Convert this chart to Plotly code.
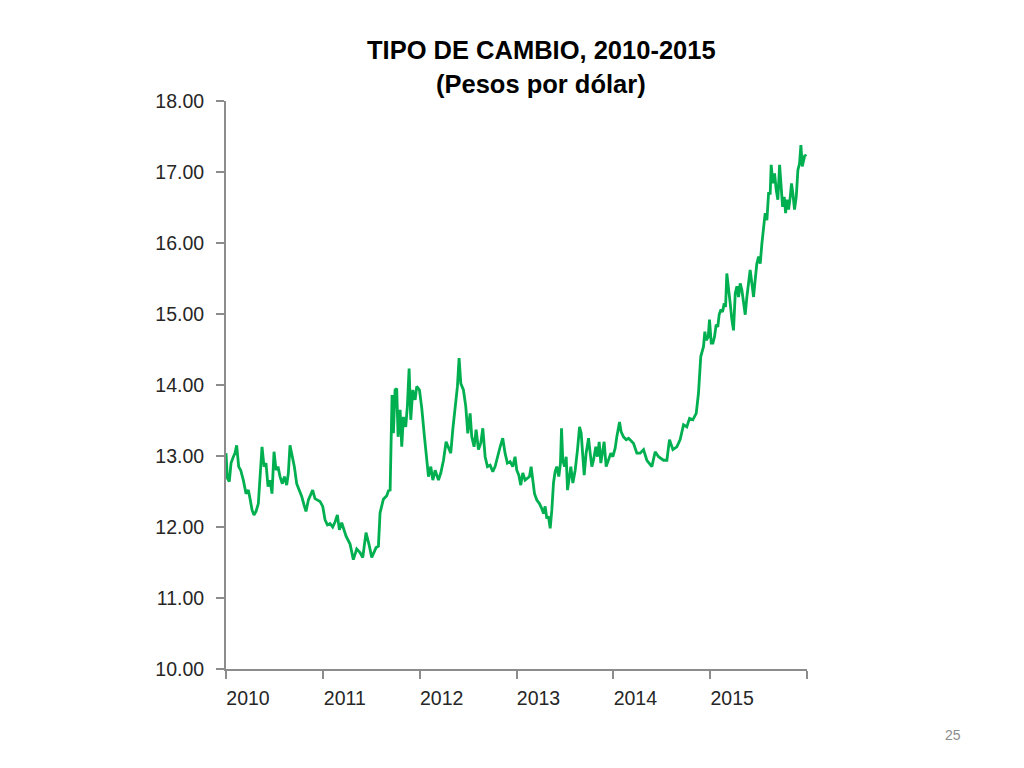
import plotly.graph_objects as go

# Fecha (año decimal) y tipo de cambio (pesos por dólar)
fecha = [
    # 2010 - principios de 2011
    2010.000, 2010.014, 2010.034, 2010.052, 2010.076, 2010.093, 2010.110, 2010.131, 2010.152, 2010.179,
    2010.207, 2010.231, 2010.248, 2010.269, 2010.289, 2010.310, 2010.334, 2010.351, 2010.372, 2010.393,
    2010.413, 2010.434, 2010.455, 2010.475, 2010.496, 2010.517, 2010.537, 2010.558, 2010.582, 2010.603,
    2010.627, 2010.644, 2010.661, 2010.685, 2010.706, 2010.730, 2010.758, 2010.782, 2010.806, 2010.826,
    2010.851, 2010.875, 2010.895, 2010.919, 2010.944, 2010.971, 2010.999, 2011.023, 2011.047, 2011.074,
    2011.102, 2011.126, 2011.150, 2011.171,
    # 2011
    2011.195, 2011.240, 2011.281, 2011.315, 2011.350, 2011.384, 2011.412, 2011.446, 2011.481, 2011.505,
    2011.550, 2011.574, 2011.591, 2011.625, 2011.660, 2011.677,
    # finales de 2011 - 2012
    2011.695, 2011.702, 2011.715, 2011.729, 2011.746, 2011.763, 2011.777, 2011.798, 2011.815, 2011.832,
    2011.856, 2011.873, 2011.891, 2011.908, 2011.929, 2011.953, 2011.970, 2011.998, 2012.022, 2012.046,
    2012.067, 2012.091, 2012.115, 2012.136, 2012.160, 2012.194, 2012.218, 2012.246, 2012.273, 2012.297,
    2012.321, 2012.342, 2012.366, 2012.390, 2012.407, 2012.425, 2012.452, 2012.476, 2012.497, 2012.521,
    2012.538, 2012.562, 2012.583, 2012.607, 2012.631, 2012.652, 2012.676, 2012.700, 2012.728, 2012.755,
    2012.779, 2012.803, 2012.831, 2012.858, 2012.882, 2012.906, 2012.934, 2012.961, 2012.985,
    # 2013 - principios de 2014
    2013.003, 2013.024, 2013.044, 2013.065, 2013.089, 2013.113, 2013.134, 2013.151, 2013.168, 2013.186,
    2013.210, 2013.237, 2013.261, 2013.279, 2013.296, 2013.313, 2013.330, 2013.348, 2013.365, 2013.382,
    2013.399, 2013.416, 2013.437, 2013.454, 2013.465, 2013.478, 2013.496, 2013.513, 2013.527, 2013.544,
    2013.561, 2013.582, 2013.606, 2013.630, 2013.651, 2013.668, 2013.685, 2013.699, 2013.719, 2013.744,
    2013.761, 2013.778, 2013.795, 2013.819, 2013.836, 2013.854, 2013.871, 2013.888, 2013.905, 2013.926,
    2013.950, 2013.974, 2013.995, 2014.019, 2014.036, 2014.053, 2014.064, 2014.081, 2014.105, 2014.133,
    2014.157,
    # 2014
    2014.208, 2014.243, 2014.277, 2014.312, 2014.346, 2014.398, 2014.432, 2014.467, 2014.518, 2014.553,
    2014.580, 2014.615, 2014.656, 2014.690, 2014.725, 2014.759, 2014.787, 2014.821, 2014.856, 2014.879,
    2014.903,
    # finales de 2014 - 2015
    2014.931, 2014.945, 2014.959, 2014.980, 2014.993, 2015.011, 2015.028, 2015.045, 2015.062, 2015.079,
    2015.093, 2015.110, 2015.128, 2015.145, 2015.159, 2015.172, 2015.190, 2015.207, 2015.224, 2015.241,
    2015.259, 2015.276, 2015.293, 2015.310, 2015.327, 2015.345, 2015.362, 2015.379, 2015.396, 2015.413,
    2015.431, 2015.448, 2015.465, 2015.482, 2015.500, 2015.517, 2015.534, 2015.551, 2015.568, 2015.586,
    2015.603, 2015.620, 2015.630, 2015.648, 2015.665, 2015.682, 2015.699, 2015.717, 2015.734, 2015.748,
    2015.765, 2015.779, 2015.792, 2015.810, 2015.827, 2015.840, 2015.854, 2015.871, 2015.889, 2015.906,
    2015.923, 2015.937, 2015.951, 2015.964, 2015.978, 2015.992,
]

tipo_cambio = [
    # 2010 - principios de 2011
    13.04, 12.69, 12.64, 12.90, 12.99, 13.04, 13.15, 12.85, 12.80, 12.66,
    12.47, 12.52, 12.40, 12.24, 12.17, 12.22, 12.33, 12.66, 13.13, 12.85,
    12.90, 12.57, 12.66, 12.47, 13.06, 12.80, 12.85, 12.71, 12.61, 12.71,
    12.59, 12.76, 13.15, 12.99, 12.85, 12.61, 12.52, 12.43, 12.31, 12.22,
    12.38, 12.47, 12.52, 12.40, 12.38, 12.36, 12.29, 12.10, 12.03, 12.05,
    12.00, 12.07, 12.17, 11.96,
    # 2011
    12.06, 11.87, 11.76, 11.54, 11.69, 11.64, 11.57, 11.92, 11.73, 11.57,
    11.71, 11.73, 12.20, 12.39, 12.44, 12.51,
    # finales de 2011 - 2012
    12.52, 12.90, 13.86, 13.32, 13.93, 13.95, 13.27, 13.65, 13.13, 13.55,
    13.41, 13.70, 14.23, 13.51, 13.93, 13.79, 13.98, 13.93, 13.67, 13.32,
    12.99, 12.71, 12.85, 12.66, 12.80, 12.66, 12.76, 12.94, 13.20, 13.13,
    13.04, 13.37, 13.70, 13.98, 14.38, 14.02, 13.93, 13.70, 13.32, 13.60,
    13.27, 13.13, 13.37, 13.09, 13.18, 13.39, 12.99, 12.85, 12.87, 12.78,
    12.85, 12.99, 13.13, 13.25, 13.04, 12.90, 12.92, 12.85, 12.99,
    # 2013 - principios de 2014
    12.80, 12.73, 12.59, 12.76, 12.66, 12.69, 12.71, 12.85, 12.64, 12.47,
    12.38, 12.33, 12.26, 12.19, 12.29, 12.12, 12.15, 11.98, 12.24, 12.62,
    12.78, 12.85, 12.71, 12.90, 13.39, 12.94, 12.85, 12.99, 12.52, 12.71,
    12.85, 12.62, 12.80, 13.09, 13.41, 13.32, 12.90, 12.73, 13.04, 13.25,
    13.04, 12.85, 12.94, 13.13, 12.99, 13.20, 12.90, 13.09, 13.20, 12.85,
    12.94, 13.04, 12.99, 13.11, 13.27, 13.37, 13.48, 13.34, 13.27, 13.23,
    13.25,
    # 2014
    13.18, 13.04, 13.04, 13.09, 12.94, 12.85, 13.06, 12.99, 12.94, 12.94,
    13.23, 13.09, 13.13, 13.23, 13.44, 13.41, 13.53, 13.51, 13.60, 13.88,
    14.40,
    # finales de 2014 - 2015
    14.54, 14.75, 14.63, 14.68, 14.92, 14.59, 14.59, 14.68, 14.85, 14.82,
    14.99, 15.06, 15.03, 15.15, 15.10, 15.57, 15.39, 15.15, 14.92, 14.77,
    15.29, 15.39, 15.24, 15.43, 15.34, 15.15, 14.99, 15.24, 15.48, 15.62,
    15.43, 15.24, 15.48, 15.71, 15.81, 15.71, 15.99, 16.23, 16.42, 16.32,
    16.70, 16.70, 17.10, 16.84, 16.98, 16.75, 16.61, 17.10, 16.84, 16.51,
    16.65, 16.42, 16.61, 16.47, 16.65, 16.84, 16.70, 16.47, 16.65, 17.03,
    17.12, 17.38, 17.08, 17.17, 17.24, 17.22,
]

anios_ticks = [2010, 2011, 2012, 2013, 2014, 2015, 2016]
etiquetas_anios = ["2010", "2011", "2012", "2013", "2014", "2015", ""]
y_ticks = [10, 11, 12, 13, 14, 15, 16, 17, 18]

titulo_1 = "TIPO DE CAMBIO, 2010-2015"
titulo_2 = "(Pesos por dólar)"
numero_pagina = "25"

fig = go.Figure()
fig.add_trace(go.Scatter(
    x=fecha, y=tipo_cambio, mode="lines",
    line=dict(color="#00B050", width=2.8),
    hoverinfo="x+y",
))

fuente = "Liberation Sans, Arial, sans-serif"
axis_font = dict(family=fuente, size=19.5, color="#262626")

fig.update_layout(
    width=1024, height=768,
    margin=dict(l=226, r=217, t=101, b=99, pad=0),
    paper_bgcolor="white", plot_bgcolor="white",
    showlegend=False,
    xaxis=dict(
        range=[2010, 2016], tickvals=anios_ticks, ticktext=etiquetas_anios,
        showgrid=False, zeroline=False,
        showline=True, linecolor="#8C8C8C", linewidth=2,
        ticks="outside", ticklen=8, tickwidth=2, tickcolor="#8C8C8C",
        tickfont=axis_font, ticklabelshift=22, ticklabelstandoff=3,
    ),
    yaxis=dict(
        range=[10, 18], tickvals=y_ticks, tickformat=".2f",
        showgrid=False, zeroline=False,
        showline=True, linecolor="#8C8C8C", linewidth=2,
        ticks="outside", ticklen=8, tickwidth=2, tickcolor="#8C8C8C",
        tickfont=axis_font, ticklabelstandoff=8,
    ),
    annotations=[
        dict(text="<b>" + titulo_1 + "</b>", xref="paper", yref="paper",
             x=(541 - 226) / 581, y=(669 - 50) / 568, xanchor="center", yanchor="middle",
             showarrow=False, font=dict(family=fuente, size=25.5, color="black")),
        dict(text="<b>" + titulo_2 + "</b>", xref="paper", yref="paper",
             x=(541 - 226) / 581, y=(669 - 84) / 568, xanchor="center", yanchor="middle",
             showarrow=False, font=dict(family=fuente, size=25.5, color="black")),
        dict(text=numero_pagina, xref="paper", yref="paper",
             x=(953 - 226) / 581, y=(669 - 735) / 568, xanchor="center", yanchor="middle",
             showarrow=False, font=dict(family=fuente, size=14, color="#8C8C8C")),
    ],
)

fig.write_html(
    "out.html",
    config={"displayModeBar": False},
    post_script="document.body.style.margin='0';document.body.style.overflow='hidden';",
)
